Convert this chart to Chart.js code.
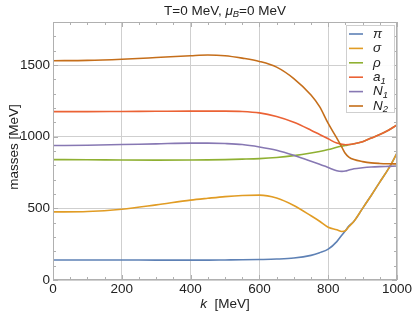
<!DOCTYPE html>
<html lang="en">
<head>
    <meta charset="UTF-8">
    <title>Masses vs k</title>
    <script src="https://cdn.jsdelivr.net/npm/chart.js"></script>
    <style>
        html, body { margin: 0; padding: 0; background: #fff; }
        #wrap { width: 415px; height: 316px; }
    </style>
</head>
<body>
    <div id="wrap"><canvas id="chart" width="415" height="316"></canvas></div>

    <script>
        // momentum scale k [MeV]
        const kValues = [0, 100, 200, 300, 400, 450, 500, 550, 600, 650, 700, 750, 775, 800, 825, 840, 850, 860, 875, 900, 925, 950, 975, 1000];

        // masses [MeV]
        const piMass    = [140, 140, 140, 139, 139, 139, 140, 141, 143, 146, 153, 172, 190, 215, 268, 314, 343, 376, 410, 500, 590, 683, 775, 885];
        const sigmaMass = [475, 478, 494, 524, 557, 570, 582, 590, 592, 572, 520, 448, 410, 368, 350, 338, 344, 372, 410, 500, 590, 683, 775, 885];
        const rhoMass   = [840, 839, 837, 836, 837, 838, 840, 843, 847, 855, 868, 886, 897, 910, 926, 934, 939, 943, 950, 965, 990, 1015, 1045, 1082];
        const a1Mass    = [1175, 1175, 1176, 1177, 1178, 1178, 1178, 1176, 1166, 1140, 1100, 1045, 1015, 985, 955, 947, 944, 945, 950, 965, 990, 1015, 1045, 1082];
        const n1Mass    = [938, 940, 945, 950, 955, 955, 952, 945, 928, 905, 870, 828, 808, 785, 762, 758, 760, 767, 776, 783, 788, 791, 793, 795];
        const n2Mass    = [1530, 1532, 1540, 1552, 1565, 1570, 1565, 1548, 1525, 1485, 1405, 1290, 1209, 1092, 990, 925, 882, 858, 840, 826, 817, 813, 811, 810];

        // axis ticks
        const xTickValues = [0, 200, 400, 600, 800, 1000];
        const yTickValues = [0, 500, 1000, 1500];

        const seriesNames  = ['π', 'σ', 'ρ', 'a', 'N', 'N'];
        const seriesSubs   = ['', '', '', '1', '1', '2'];
        const seriesColors = ['#5E81B5', '#E19C24', '#8FB032', '#EB6235', '#8778B3', '#C56E1A'];
        const seriesData   = [piMass, sigmaMass, rhoMass, a1Mass, n1Mass, n2Mass];

        const FONT = "'Liberation Sans', Arial, sans-serif";
        const TEXT = '#222';

        // text with an optional subscript, returns width drawn
        function drawSub(ctx, x, y, base, sub, size, style) {
            ctx.font = style + ' ' + size + 'px ' + FONT;
            ctx.fillText(base, x, y);
            let w = ctx.measureText(base).width;
            if (sub) {
                ctx.font = style + ' ' + (size * 0.7) + 'px ' + FONT;
                ctx.fillText(sub, x + w, y + size * 0.28);
                w += ctx.measureText(sub).width;
            }
            return w;
        }

        const decorations = {
            id: 'decorations',
            afterDatasetsDraw(chart) {
                const ctx = chart.ctx;
                const area = chart.chartArea;
                const xs = chart.scales.x, ys = chart.scales.y;
                ctx.save();

                // frame
                ctx.strokeStyle = '#b0b0b0';
                ctx.lineWidth = 1;
                ctx.strokeRect(area.left + 0.5, area.top + 0.5, area.right - area.left - 1, area.bottom - area.top - 1);

                // inward ticks on all four sides
                ctx.beginPath();
                for (let v = 0; v <= 1000; v += 50) {
                    const px = Math.round(xs.getPixelForValue(v)) + 0.5;
                    const len = v % 200 === 0 ? 5 : 3;
                    ctx.moveTo(px, area.bottom); ctx.lineTo(px, area.bottom - len);
                    ctx.moveTo(px, area.top); ctx.lineTo(px, area.top + len);
                }
                for (let v = 0; v <= 1800; v += 100) {
                    const py = Math.round(ys.getPixelForValue(v)) + 0.5;
                    const len = v % 500 === 0 ? 5 : 3;
                    ctx.moveTo(area.left, py); ctx.lineTo(area.left + len, py);
                    ctx.moveTo(area.right, py); ctx.lineTo(area.right - len, py);
                }
                ctx.stroke();

                ctx.fillStyle = TEXT;
                ctx.textBaseline = 'middle';

                // title
                const parts = [
                    ['T=0 MeV, ', '', 'normal'],
                    ['μ', 'B', 'italic'],
                    ['=0 MeV', '', 'normal']
                ];
                ctx.textAlign = 'left';
                let total = 0;
                parts.forEach(p => {
                    ctx.font = p[2] + ' 13.5px ' + FONT;
                    total += ctx.measureText(p[0]).width;
                    if (p[1]) { ctx.font = p[2] + ' 9.45px ' + FONT; total += ctx.measureText(p[1]).width; }
                });
                let tx = (area.left + area.right) / 2 - total / 2;
                parts.forEach(p => { tx += drawSub(ctx, tx, 11, p[0], p[1], 13.5, p[2]); });

                // x axis title
                ctx.font = 'italic 13.5px ' + FONT;
                const kw = ctx.measureText('k').width;
                ctx.font = 'normal 13.5px ' + FONT;
                const rw = ctx.measureText('  [MeV]').width;
                let ax = (area.left + area.right) / 2 - (kw + rw) / 2;
                ax += drawSub(ctx, ax, 304, 'k', '', 13.5, 'italic');
                drawSub(ctx, ax, 304, '  [MeV]', '', 13.5, 'normal');

                // y axis title
                ctx.save();
                ctx.translate(14, (area.top + area.bottom) / 2 - 4);
                ctx.rotate(-Math.PI / 2);
                ctx.textAlign = 'center';
                ctx.font = 'normal 13.5px ' + FONT;
                ctx.fillText('masses [MeV]', 0, 0);
                ctx.restore();

                // legend box
                const bx = 346, by = 25, bw = 48, bh = 87;
                ctx.fillStyle = 'rgba(255,255,255,0.9)';
                ctx.fillRect(bx, by, bw, bh);
                ctx.strokeStyle = '#cfcfcf';
                ctx.strokeRect(bx + 0.5, by + 0.5, bw, bh);
                seriesNames.forEach((name, i) => {
                    const ry = 34 + i * 14.4;
                    ctx.strokeStyle = seriesColors[i];
                    ctx.lineWidth = 1.6;
                    ctx.beginPath();
                    ctx.moveTo(349, ry); ctx.lineTo(363, ry);
                    ctx.stroke();
                    ctx.fillStyle = TEXT;
                    ctx.textAlign = 'left';
                    drawSub(ctx, 373, ry, name, seriesSubs[i], 13.5, 'italic');
                });

                ctx.restore();
            }
        };

        const datasets = seriesData.map((vals, i) => ({
            label: seriesNames[i] + seriesSubs[i],
            data: kValues.map((k, j) => ({ x: k, y: vals[j] })),
            borderColor: seriesColors[i],
            borderWidth: 1.6,
            pointRadius: 0,
            cubicInterpolationMode: 'monotone',
            fill: false,
            order: seriesData.length - i
        }));

        new Chart(document.getElementById('chart').getContext('2d'), {
            type: 'line',
            data: { datasets: datasets },
            options: {
                responsive: false,
                animation: false,
                events: [],
                layout: { padding: { top: 22, right: 18, left: 0, bottom: 0 } },
                plugins: { legend: { display: false }, tooltip: { enabled: false }, title: { display: false } },
                scales: {
                    x: {
                        type: 'linear',
                        min: 0,
                        max: 1000,
                        afterFit: s => { s.height = 36; },
                        afterBuildTicks: s => { s.ticks = xTickValues.map(v => ({ value: v })); },
                        ticks: { padding: 1, color: TEXT, font: { family: FONT, size: 13.5 }, maxRotation: 0, autoSkip: false, callback: v => String(v) },
                        grid: { color: '#cfcfcf', drawTicks: false },
                        border: { display: false }
                    },
                    y: {
                        min: 0,
                        max: 1800,
                        afterFit: s => { s.width = 53; },
                        afterBuildTicks: s => { s.ticks = yTickValues.map(v => ({ value: v })); },
                        ticks: { padding: 3, color: TEXT, font: { family: FONT, size: 13.5 }, autoSkip: false, callback: v => String(v) },
                        grid: { color: '#cfcfcf', drawTicks: false },
                        border: { display: false }
                    }
                }
            },
            plugins: [decorations]
        });
    </script>
</body>
</html>
